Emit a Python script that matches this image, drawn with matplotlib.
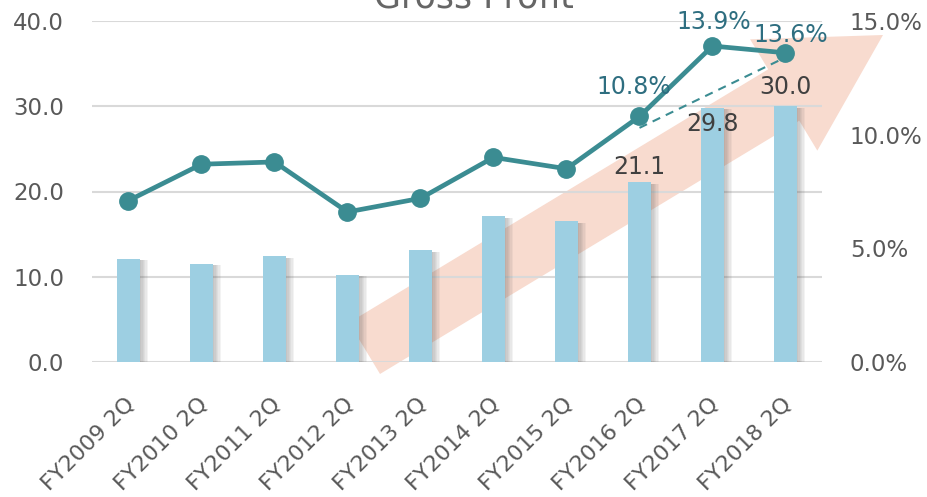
"""Gross profit bars with margin line"""

import numpy as np
import matplotlib.pyplot as plt
import matplotlib.patheffects as pe
from matplotlib.patches import Polygon
from matplotlib.transforms import ScaledTranslation

# Data
periods = ['FY2009 2Q', 'FY2010 2Q', 'FY2011 2Q', 'FY2012 2Q', 'FY2013 2Q',
           'FY2014 2Q', 'FY2015 2Q', 'FY2016 2Q', 'FY2017 2Q', 'FY2018 2Q']
gross_profit = [12.1, 11.5, 12.4, 10.2, 13.1, 17.1, 16.5, 21.1, 29.8, 30.0]
margin_pct = [7.1, 8.7, 8.8, 6.6, 7.2, 9.0, 8.5, 10.8, 13.9, 13.6]

bar_color = '#9DCFE2'
line_color = '#3B8C92'
text_gray = '#595959'

fig = plt.figure(figsize=(9.27, 4.97), dpi=100)
ax = fig.add_axes([92 / 927, 1 - 362 / 497, 730 / 927, 341 / 497])
ax2 = ax.twinx()

x = np.arange(len(periods))

# Decorative growth arrow (pixel geometry, y down)
tail = np.array([364.5, 348.3])
tip = np.array([883.0, 35.0])
u = (tip - tail) / np.linalg.norm(tip - tail)
n = np.array([-u[1], u[0]])
if n[1] < 0:
    n = -n
shaft_w, head_w, head_l = 60, 130, 116
base = tip - u * head_l
pts = [tail - n * shaft_w / 2, base - n * shaft_w / 2, base - n * head_w / 2, tip,
       base + n * head_w / 2, base + n * shaft_w / 2, tail + n * shaft_w / 2]
pts = [(p[0] / 927, 1 - p[1] / 497) for p in pts]
ax.add_patch(Polygon(pts, closed=True, transform=fig.transFigure, facecolor='#F8DBCF',
                     edgecolor='none', zorder=0.4, clip_on=False))

# Bars with a soft, blurred-looking shadow
bars = ax.bar(x, gross_profit, width=0.31, color=bar_color, zorder=2)
shadow = [pe.SimplePatchShadow(offset=(k, -1), shadow_rgbFace='#606060', alpha=0.07)
          for k in range(1, 7)]
for b in bars:
    b.set_path_effects(shadow + [pe.Normal()])

ax.set_xlim(-0.5, 9.5)
ax.set_ylim(0, 40)
ax.set_yticks([0, 10, 20, 30, 40])
ax.set_yticklabels([f'{v:.1f}' for v in [0, 10, 20, 30, 40]])
ax.set_axisbelow(True)
ax.grid(axis='y', color='#D9D9D9', lw=1.5)
ax.set_xticks(x)
ax.set_xticklabels(periods, rotation=45, ha='right', rotation_mode='anchor', va='center')
ax.tick_params(axis='x', length=0, pad=28, labelsize=16, labelcolor=text_gray)
ax.tick_params(axis='y', length=0, pad=20, labelsize=16.5, labelcolor=text_gray)
for lab in ax.get_xticklabels():
    lab.set_transform(lab.get_transform() + ScaledTranslation(0.03, 0, fig.dpi_scale_trans))
for s in ax.spines.values():
    s.set_visible(False)

# Margin line on right axis
ax2.plot(x, margin_pct, color=line_color, lw=3.4, marker='o', markersize=12.5, zorder=3)
ax2.plot([x[7], x[9]], [margin_pct[7] - 0.5, margin_pct[9] - 0.2], color=line_color,
         lw=1.5, ls=(0, (4, 3)), zorder=3)
ax2.set_ylim(0, 15)
ax2.set_yticks([0, 5, 10, 15])
ax2.set_yticklabels([f'{v:.1f}%' for v in [0, 5, 10, 15]])
ax2.tick_params(axis='y', length=0, pad=20, labelsize=16.5, labelcolor=text_gray)
for s in ax2.spines.values():
    s.set_visible(False)

# Value labels for the last three periods
bar_offsets = {7: 15, 8: -16, 9: 19}
for i, dy in bar_offsets.items():
    ax.annotate(f'{gross_profit[i]:.1f}', (x[i], gross_profit[i]), xytext=(0, dy),
                textcoords='offset pixels', ha='center', va='center', fontsize=17,
                color='#404040', zorder=5)
pct_offsets = {7: (-6, 29), 8: (1, 24), 9: (5, 18)}
for i, (dx, dy) in pct_offsets.items():
    ax2.annotate(f'{margin_pct[i]:.1f}%', (x[i], margin_pct[i]), xytext=(dx, dy),
                 textcoords='offset pixels', ha='center', va='center', fontsize=17,
                 color='#2E6E80', zorder=5)

fig.text(474 / 927, 1 - 8 / 497, 'Gross Profit', ha='center', va='baseline',
         fontsize=25, color='#666666')

plt.savefig('out.png', dpi=100)
